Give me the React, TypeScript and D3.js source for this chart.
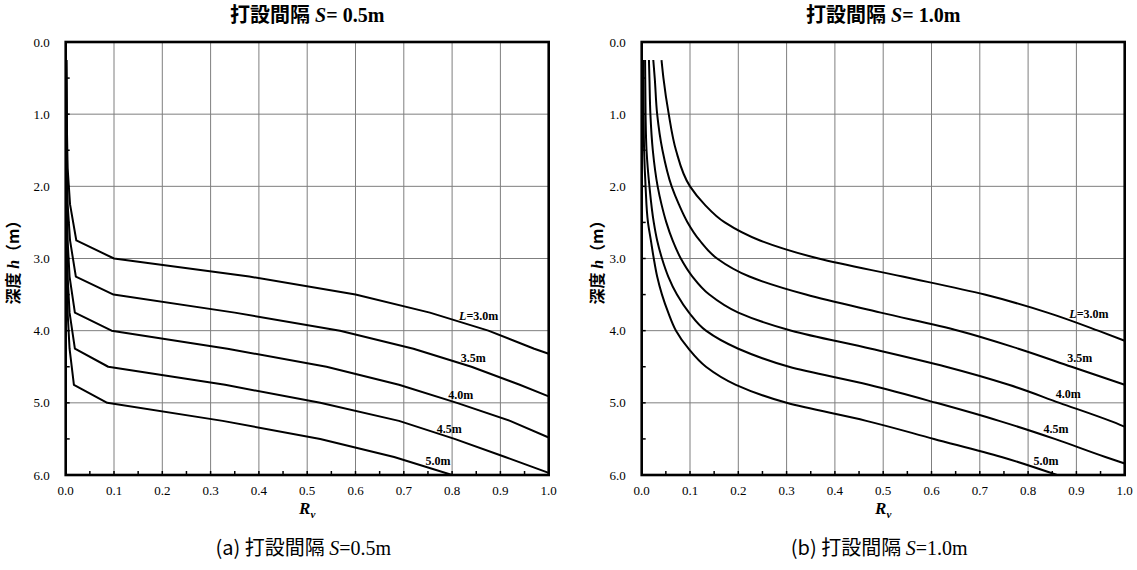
import React from "react";
import * as d3 from "d3";

// ---- axis ticks ----
const rvTicks = [0, 0.1, 0.2, 0.3, 0.4, 0.5, 0.6, 0.7, 0.8, 0.9, 1.0];
const rvTickLabels = ["0.0", "0.1", "0.2", "0.3", "0.4", "0.5", "0.6", "0.7", "0.8", "0.9", "1.0"];
const rvMinorTicks = [0.05, 0.1, 0.15, 0.2, 0.25, 0.3, 0.35, 0.4, 0.45, 0.5, 0.55, 0.6, 0.65, 0.7, 0.75, 0.8, 0.85, 0.9, 0.95];
const depthTicks = [0, 1, 2, 3, 4, 5, 6];
const depthTickLabels = ["0.0", "1.0", "2.0", "3.0", "4.0", "5.0", "6.0"];
const depthMinorTicks = [0.5, 1, 1.5, 2, 2.5, 3, 3.5, 4, 4.5, 5, 5.5];
const pileLengths = ["3.0", "3.5", "4.0", "4.5", "5.0"];

// ---- S = 0.5 m : [Rv, depth] ----
const s05_L30 = [[0.001, 0.25], [0.002, 1.0], [0.004, 1.75], [0.009, 2.25], [0.022, 2.75], [0.1, 3.0], [0.38, 3.25], [0.6, 3.5], [0.754, 3.75], [0.875, 4.0], [0.97, 4.25], [1.0, 4.32]];
const s05_L35 = [[0.001, 0.25], [0.002, 1.25], [0.004, 2.25], [0.009, 2.75], [0.021, 3.25], [0.099, 3.5], [0.35, 3.75], [0.568, 4.0], [0.72, 4.25], [0.84, 4.5], [0.94, 4.75], [1.0, 4.91]];
const s05_L40 = [[0.001, 0.25], [0.002, 1.75], [0.004, 2.75], [0.008, 3.25], [0.019, 3.75], [0.095, 4.0], [0.335, 4.25], [0.54, 4.5], [0.69, 4.75], [0.81, 5.0], [0.92, 5.25], [1.0, 5.48]];
const s05_L45 = [[0.001, 0.25], [0.002, 2.25], [0.004, 3.25], [0.008, 3.75], [0.019, 4.25], [0.088, 4.5], [0.33, 4.75], [0.527, 5.0], [0.69, 5.25], [0.805, 5.5], [0.91, 5.75], [1.0, 5.97]];
const s05_L50 = [[0.001, 0.25], [0.002, 2.75], [0.004, 3.75], [0.008, 4.25], [0.017, 4.75], [0.086, 5.0], [0.325, 5.25], [0.527, 5.5], [0.68, 5.75], [0.8, 6.0]];

// ---- S = 1.0 m : [Rv, depth] ----
const s10_L30 = [[0.041, 0.25], [0.045, 0.5], [0.056, 1.0], [0.071, 1.5], [0.1, 2.0], [0.13, 2.25], [0.172, 2.5], [0.245, 2.75], [0.366, 3.0], [0.54, 3.25], [0.71, 3.5], [0.84, 3.75], [0.945, 4.0], [1.0, 4.14]];
const s10_L35 = [[0.024, 0.25], [0.027, 0.5], [0.032, 1.0], [0.043, 1.5], [0.062, 2.0], [0.077, 2.25], [0.095, 2.5], [0.12, 2.75], [0.156, 3.0], [0.223, 3.25], [0.34, 3.5], [0.495, 3.75], [0.656, 4.0], [0.78, 4.25], [0.89, 4.5], [1.0, 4.75]];
const s10_L40 = [[0.015, 0.25], [0.016, 0.5], [0.018, 1.0], [0.023, 1.5], [0.033, 2.0], [0.041, 2.25], [0.051, 2.5], [0.064, 2.75], [0.081, 3.0], [0.105, 3.25], [0.14, 3.5], [0.2, 3.75], [0.31, 4.0], [0.475, 4.25], [0.63, 4.5], [0.76, 4.75], [0.865, 5.0], [0.97, 5.25], [1.0, 5.33]];
const s10_L45 = [[0.007, 0.25], [0.008, 1.0], [0.01, 1.5], [0.016, 2.0], [0.025, 2.5], [0.032, 2.75], [0.042, 3.0], [0.055, 3.25], [0.073, 3.5], [0.098, 3.75], [0.133, 4.0], [0.2, 4.25], [0.305, 4.5], [0.47, 4.75], [0.61, 5.0], [0.74, 5.25], [0.855, 5.5], [0.96, 5.75], [1.0, 5.84]];
const s10_L50 = [[0.003, 0.25], [0.004, 1.0], [0.005, 1.5], [0.008, 2.0], [0.013, 2.5], [0.019, 2.75], [0.025, 3.0], [0.032, 3.25], [0.042, 3.5], [0.055, 3.75], [0.071, 4.0], [0.097, 4.25], [0.133, 4.5], [0.195, 4.75], [0.3, 5.0], [0.465, 5.25], [0.605, 5.5], [0.745, 5.75], [0.86, 6.0]];

// label anchors in data space [Rv, depth]
const s05_labelAt = [[0.855, 3.8], [0.844, 4.38], [0.818, 4.89], [0.794, 5.36], [0.771, 5.8]];
const s10_labelAt = [[0.926, 3.77], [0.907, 4.37], [0.883, 4.87], [0.858, 5.36], [0.837, 5.8]];

const s05Series = [s05_L30, s05_L35, s05_L40, s05_L45, s05_L50];
const s10Series = [s10_L30, s10_L35, s10_L40, s10_L45, s10_L50];

const PLOT_W = 483;
const PLOT_TOP = 42;
const PLOT_H = 433;
const SERIF = "'Liberation Serif', 'Times New Roman', serif";
const CJK = "'Noto Sans CJK JP', 'Noto Sans', sans-serif";

function Panel(props: any) {
  const { left, yTitleX, spacing, letter, series, labelAt, id, smooth } = props;
  const x = d3.scaleLinear().domain([0, 1]).range([left, left + PLOT_W]);
  const y = d3.scaleLinear().domain([0, 6]).range([PLOT_TOP, PLOT_TOP + PLOT_H]);
  const line = d3
    .line<number[]>()
    .x((d) => x(d[0]))
    .y((d) => y(d[1]))
    .curve(smooth ? d3.curveMonotoneY : d3.curveLinear);
  const cx = left + PLOT_W / 2;
  const bottom = y(6);
  return (
    <g>
      <defs>
        <clipPath id={id}>
          <rect x={left} y={PLOT_TOP} width={PLOT_W} height={PLOT_H} />
        </clipPath>
      </defs>
      {rvTicks.slice(1, -1).map((t, i) => (
        <line key={"gx" + i} x1={x(t)} x2={x(t)} y1={PLOT_TOP} y2={bottom} stroke="#7f7f7f" strokeWidth={1} />
      ))}
      {depthTicks.slice(1, -1).map((t, i) => (
        <line key={"gy" + i} x1={left} x2={left + PLOT_W} y1={y(t)} y2={y(t)} stroke="#7f7f7f" strokeWidth={1} />
      ))}
      <g clipPath={`url(#${id})`}>
        {series.map((s: number[][], i: number) => (
          <path key={"c" + i} d={line(s) || ""} fill="none" stroke="#000" strokeWidth={2} strokeLinejoin="round" />
        ))}
      </g>
      <rect x={left} y={PLOT_TOP} width={PLOT_W} height={PLOT_H} fill="none" stroke="#000" strokeWidth={2.6} />
      {rvMinorTicks.map((t, i) => (
        <line key={"mx" + i} x1={x(t)} x2={x(t)} y1={bottom} y2={bottom - 4} stroke="#000" strokeWidth={1.5} />
      ))}
      {depthMinorTicks.map((t, i) => (
        <line key={"my" + i} x1={left} x2={left + 4} y1={y(t)} y2={y(t)} stroke="#000" strokeWidth={1.5} />
      ))}
      {depthTicks.map((t, i) => (
        <text key={"ly" + i} x={left - 16} y={y(t)} dy="0.35em" textAnchor="end" fontFamily={SERIF} fontSize={13}>
          {depthTickLabels[i]}
        </text>
      ))}
      {rvTicks.map((t, i) => (
        <text key={"lx" + i} x={x(t)} y={495} textAnchor="middle" fontFamily={SERIF} fontSize={13}>
          {rvTickLabels[i]}
        </text>
      ))}
      {labelAt.map((p: number[], i: number) => (
        <text key={"cl" + i} x={x(p[0])} y={y(p[1])} dy="0.35em" textAnchor="middle" fontFamily={SERIF} fontSize={12} fontWeight="bold">
          {i === 0 ? <tspan fontStyle="italic">L</tspan> : null}
          {i === 0 ? "=" : ""}
          {pileLengths[i]}m
        </text>
      ))}
      <text x={cx} y={22} textAnchor="middle" fontWeight="bold" fontSize={20}>
        <tspan fontFamily={CJK}>打設間隔</tspan>
        <tspan fontFamily={SERIF} fontStyle="italic"> S</tspan>
        <tspan fontFamily={SERIF}>= {spacing}m</tspan>
      </text>
      <text x={cx} y={514} textAnchor="middle" fontFamily={SERIF} fontWeight="bold" fontStyle="italic" fontSize={17}>
        R<tspan fontSize={11} dy={4}>v</tspan>
      </text>
      <text transform={`translate(${yTitleX},${y(3)}) rotate(-90)`} textAnchor="middle" dy="0.35em" fontWeight="bold" fontSize={16}>
        <tspan fontFamily={CJK}>深度 </tspan>
        <tspan fontFamily={SERIF} fontStyle="italic">h</tspan>
        <tspan fontFamily={CJK}>（m）</tspan>
      </text>
      <text x={cx - 4} y={555} textAnchor="middle" fontSize={20}>
        <tspan fontFamily={CJK}>({letter})  打設間隔 </tspan>
        <tspan fontFamily={SERIF} fontStyle="italic">S</tspan>
        <tspan fontFamily={SERIF}>={spacing}m</tspan>
      </text>
    </g>
  );
}

export default function App() {
  return (
    <svg width={1137} height={570} style={{ position: "absolute", left: 0, top: 0, background: "#fff" }}>
      <rect width={1137} height={570} fill="#fff" />
      <Panel id="clipA" left={65.7} yTitleX={13.5} spacing="0.5" letter="a" series={s05Series} labelAt={s05_labelAt} smooth={false} />
      <Panel id="clipB" left={641.7} yTitleX={597} spacing="1.0" letter="b" series={s10Series} labelAt={s10_labelAt} smooth={true} />
    </svg>
  );
}
